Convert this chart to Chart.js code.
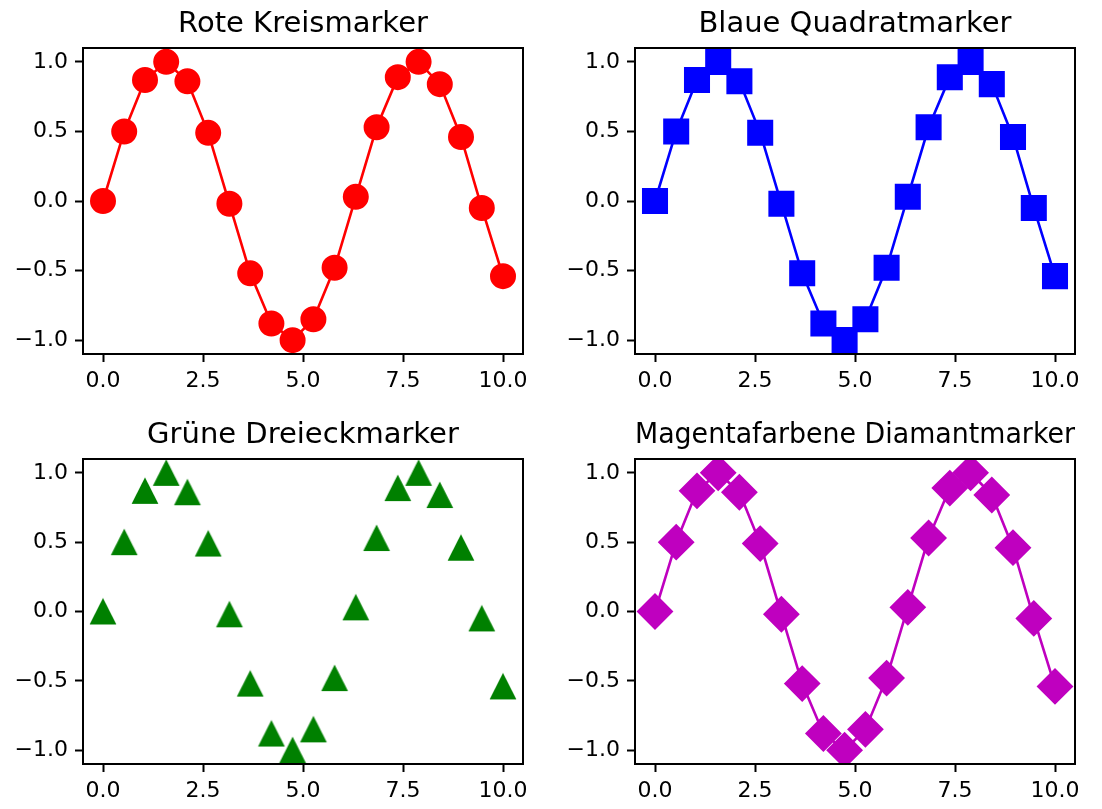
<!DOCTYPE html>
<html>
<head>
<meta charset="utf-8">
<script src="https://cdn.jsdelivr.net/npm/chart.js@4/dist/chart.umd.min.js"></script>
<style>
  html, body { margin: 0; padding: 0; background: #ffffff; overflow: hidden; width: 1102px; height: 809px; }
  canvas { position: absolute; }
</style>
</head>
<body>
<canvas id="c0"></canvas>
<canvas id="c1"></canvas>
<canvas id="c2"></canvas>
<canvas id="c3"></canvas>
<script>
// ---- data ----
const xValues = [0, 0.53, 1.05, 1.58, 2.11, 2.63, 3.16, 3.68, 4.21, 4.74, 5.26, 5.79, 6.32, 6.84, 7.37, 7.89, 8.42, 8.95, 9.47, 10.0];
const redValues     = [0, 0.50, 0.87, 1.00, 0.86, 0.49, -0.02, -0.52, -0.88, -1.00, -0.85, -0.48, 0.03, 0.53, 0.89, 1.00, 0.84, 0.46, -0.05, -0.54];
const blueValues    = [0, 0.50, 0.87, 1.00, 0.86, 0.49, -0.02, -0.52, -0.88, -1.00, -0.85, -0.48, 0.03, 0.53, 0.89, 1.00, 0.84, 0.46, -0.05, -0.54];
const greenValues   = [0, 0.50, 0.87, 1.00, 0.86, 0.49, -0.02, -0.52, -0.88, -1.00, -0.85, -0.48, 0.03, 0.53, 0.89, 1.00, 0.84, 0.46, -0.05, -0.54];
const magentaValues = [0, 0.50, 0.87, 1.00, 0.86, 0.49, -0.02, -0.52, -0.88, -1.00, -0.85, -0.48, 0.03, 0.53, 0.89, 1.00, 0.84, 0.46, -0.05, -0.54];
const xTicks = [0, 2.5, 5, 7.5, 10];
const xTickLabels = ['0.0', '2.5', '5.0', '7.5', '10.0'];
const yTicks = [-1, -0.5, 0, 0.5, 1];
const yTickLabels = ['\u22121.0', '\u22120.5', '0.0', '0.5', '1.0'];
const titles = ['Rote Kreismarker', 'Blaue Quadratmarker', 'Grüne Dreieckmarker', 'Magentafarbene Diamantmarker'];
const xRange = [-0.5, 10.5];
const yRange = [-1.0997, 1.0997];

// ---- styling / layout ----
const FONT = "'DejaVu Sans', sans-serif";
const TICK_SIZE = 22;
const TITLE_SIZE = 29;

// matplotlib-like triangle marker as a canvas point style
function makeTriangle(color) {
  const c = document.createElement('canvas');
  c.width = 30; c.height = 30;
  const g = c.getContext('2d');
  g.fillStyle = color;
  g.beginPath();
  g.moveTo(15, 1.6);
  g.lineTo(28.4, 28.0);
  g.lineTo(1.6, 28.0);
  g.closePath();
  g.fill();
  return c;
}

const spinePlugin = {
  id: 'spines',
  afterDatasetsDraw(chart) {
    const a = chart.chartArea, ctx = chart.ctx;
    ctx.save();
    ctx.strokeStyle = '#000';
    ctx.lineWidth = 2;
    ctx.strokeRect(a.left, a.top, a.right - a.left, a.bottom - a.top);
    ctx.restore();
  }
};

// panel: canvas rect + desired axes rect (page coords)
const panels = [
  { id: 'c0', cx: 0,   cy: 0,   w: 606, h: 404, L: 83,  T: 48,  R: 523,  B: 354, titleTop: 7.2 },
  { id: 'c1', cx: 560, cy: 0,   w: 590, h: 404, L: 635, T: 48,  R: 1075, B: 354, titleTop: 7.2 },
  { id: 'c2', cx: 0,   cy: 404, w: 606, h: 405, L: 83,  T: 459, R: 523,  B: 764, titleTop: 14.2 },
  { id: 'c3', cx: 560, cy: 404, w: 590, h: 405, L: 635, T: 459, R: 1075, B: 764, titleTop: 14.2 }
];

const series = [
  { data: redValues, color: '#ff0000', style: 'circle', radius: 12, border: 2, line: true },
  { data: blueValues, color: '#0000ff', style: 'rect', radius: 17, border: 2, line: true },
  { data: greenValues, color: '#008000', style: makeTriangle('#008000'), radius: 13, border: 0, line: false },
  { data: magentaValues, color: '#bf00bf', style: 'rectRot', radius: 17, border: 2, line: true }
];

panels.forEach((p, i) => {
  const cv = document.getElementById(p.id);
  cv.width = p.w; cv.height = p.h;
  cv.style.left = p.cx + 'px'; cv.style.top = p.cy + 'px';
  cv.style.width = p.w + 'px'; cv.style.height = p.h + 'px';
  const s = series[i];
  const yAxisW = p.L - p.cx;
  const xAxisH = (p.cy + p.h) - p.B;
  const titleH = TITLE_SIZE * 1.2;
  const titleBottom = (p.T - p.cy) - p.titleTop - titleH;
  new Chart(cv, {
    type: 'line',
    data: {
      datasets: [{
        data: xValues.map((x, k) => ({ x: x, y: s.data[k] })),
        borderColor: s.color,
        backgroundColor: s.color,
        borderWidth: 2.6,
        showLine: s.line,
        pointStyle: s.style,
        pointRadius: s.radius,
        pointHoverRadius: s.radius,
        pointBorderWidth: s.border,
        pointBorderColor: s.color,
        pointBackgroundColor: s.color,
        tension: 0,
        clip: 0
      }]
    },
    options: {
      responsive: false,
      animation: false,
      devicePixelRatio: 1,
      events: [],
      layout: { padding: { left: 0, top: 0, bottom: 0, right: (p.cx + p.w) - p.R } },
      plugins: {
        legend: { display: false },
        tooltip: { enabled: false },
        title: {
          display: true,
          fullSize: false,
          text: titles[i],
          color: '#000',
          font: { family: FONT, size: TITLE_SIZE, weight: 'normal', lineHeight: 1.2 },
          padding: { top: p.titleTop, bottom: titleBottom }
        }
      },
      scales: {
        x: {
          type: 'linear',
          min: xRange[0], max: xRange[1],
          afterBuildTicks: (sc) => { sc.ticks = xTicks.map(v => ({ value: v })); },
          afterFit: (sc) => { sc.height = xAxisH; },
          ticks: {
            color: '#000',
            font: { family: FONT, size: TICK_SIZE },
            padding: 6,
            maxRotation: 0,
            autoSkip: false,
            callback: (v, idx) => xTickLabels[idx]
          },
          grid: { display: true, drawOnChartArea: false, drawTicks: true, tickLength: 8, tickWidth: 2, tickColor: '#000' },
          border: { display: false }
        },
        y: {
          type: 'linear',
          min: yRange[0], max: yRange[1],
          afterBuildTicks: (sc) => { sc.ticks = yTicks.map(v => ({ value: v })); },
          afterFit: (sc) => { sc.width = yAxisW; },
          ticks: {
            color: '#000',
            font: { family: FONT, size: TICK_SIZE },
            padding: 7,
            autoSkip: false,
            callback: (v, idx) => yTickLabels[idx]
          },
          grid: { display: true, drawOnChartArea: false, drawTicks: true, tickLength: 8, tickWidth: 2, tickColor: '#000' },
          border: { display: false }
        }
      }
    },
    plugins: [spinePlugin]
  });
});
</script>
</body>
</html>
